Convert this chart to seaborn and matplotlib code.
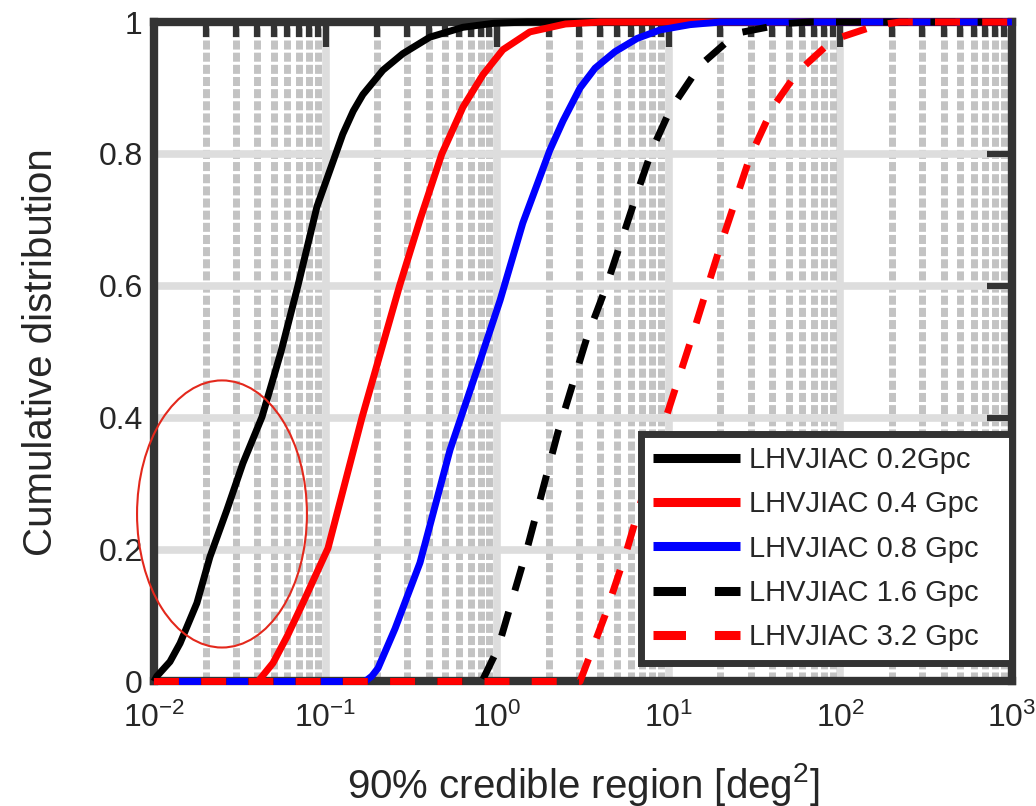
import matplotlib
matplotlib.use('Agg')
import matplotlib.pyplot as plt
from matplotlib.patches import Ellipse
import seaborn as sns
import pandas as pd

# CDF of 90% credible area for LHVJIAC network at several distances
area_02 = [0.01, 0.0104, 0.0124, 0.0142, 0.0178, 0.0212, 0.0266, 0.033, 0.0426,
           0.055, 0.069, 0.0891, 0.106, 0.126, 0.145, 0.165, 0.216, 0.282, 0.405,
           0.632, 0.95, 1.5, 1000]
cdf_02 = [0, 0.008, 0.03, 0.058, 0.119, 0.189, 0.26, 0.331, 0.401,
          0.5, 0.6, 0.72, 0.775, 0.83, 0.865, 0.89, 0.927, 0.952, 0.977,
          0.992, 0.998, 1, 1]

area_04 = [0.01, 0.0404, 0.0494, 0.0596, 0.0738, 0.1033, 0.163, 0.27, 0.355,
           0.476, 0.632, 0.826, 1.08, 1.55, 2.5, 4.0, 1000]
cdf_04 = [0, 0, 0.028, 0.068, 0.119, 0.202, 0.40, 0.6, 0.7,
          0.8, 0.871, 0.92, 0.958, 0.985, 0.997, 1, 1]

area_08 = [0.01, 0.170, 0.186, 0.202, 0.254, 0.355, 0.531, 0.762, 1.04, 1.41,
           2.03, 2.42, 3.04, 3.72, 4.86, 6.53, 8.9, 13.3, 20, 1000]
cdf_08 = [0, 0, 0.008, 0.02, 0.08, 0.18, 0.351, 0.472, 0.578, 0.695,
          0.806, 0.85, 0.90, 0.93, 0.955, 0.975, 0.988, 0.996, 1, 1]

area_16 = [0.01, 0.815, 1.01, 1.49, 2.26, 3.34, 4.31, 6.53, 7.98,
           10.2, 15.2, 24.9, 48.9, 66.5, 1000]
cdf_16 = [0, 0, 0.05, 0.2, 0.378, 0.522, 0.598, 0.74, 0.806,
          0.867, 0.934, 0.983, 0.998, 1, 1]

area_32 = [0.01, 3.04, 4.25, 5.71, 9.25, 13.3, 19.9, 29.7, 40.5,
           55.8, 90.6, 163, 222, 1000]
cdf_32 = [0, 0, 0.1, 0.2, 0.386, 0.513, 0.659, 0.795, 0.871,
          0.923, 0.973, 0.995, 1, 1]

labels = ['LHVJIAC 0.2Gpc', 'LHVJIAC 0.4 Gpc', 'LHVJIAC 0.8 Gpc',
          'LHVJIAC 1.6 Gpc', 'LHVJIAC 3.2 Gpc']
colors = ['#000000', '#ff0000', '#0000ff', '#000000', '#ff0000']
dashed = [False, False, False, True, True]

yticks = [0, 0.2, 0.4, 0.6, 0.8, 1]
ytick_labels = ['0', '0.2', '0.4', '0.6', '0.8', '1']

frames = []
for lab, xs, ys in zip(labels, [area_02, area_04, area_08, area_16, area_32],
                       [cdf_02, cdf_04, cdf_08, cdf_16, cdf_32]):
    frames.append(pd.DataFrame({'area': xs, 'cdf': ys, 'run': lab}))
df = pd.concat(frames, ignore_index=True)

sns.set_theme(style='white')
plt.rcParams['font.family'] = ['Liberation Sans', 'DejaVu Sans']
plt.rcParams['mathtext.fontset'] = 'custom'
plt.rcParams['mathtext.rm'] = 'Liberation Sans'
plt.rcParams['mathtext.it'] = 'Liberation Sans:italic'
plt.rcParams['mathtext.bf'] = 'Liberation Sans:bold'

DARK = '#333333'
TXT = '#262626'

fig = plt.figure(figsize=(10.36, 8.06), dpi=100)
ax = fig.add_axes([0.1486, 0.1545, 0.8282, 0.8182])

for lab, col, dsh in zip(labels, colors, dashed):
    ls = (0, (3.6, 3.2)) if dsh else '-'
    sns.lineplot(data=df[df['run'] == lab], x='area', y='cdf', ax=ax,
                 color=col, linestyle=ls, lw=5, label=lab, sort=False,
                 estimator=None, clip_on=False, zorder=5,
                 solid_capstyle='butt', dash_capstyle='butt',
                 solid_joinstyle='round')

ax.set_xscale('log')
ax.set_xlim(1e-2, 1e3)
ax.set_ylim(0, 1)
ax.set_yticks(yticks, ytick_labels)

ax.set_axisbelow(True)
ax.grid(which='major', color='#dddddd', lw=5.5, ls='-')
ax.grid(which='minor', axis='x', color='#c3c3c3', lw=5, ls=(0, (1.3, 0.45)))

ax.tick_params(which='both', direction='in', top=True, right=True,
               color=DARK, labelcolor=TXT, labelsize=23)
ax.tick_params(which='major', length=18, width=4.5)
ax.tick_params(which='minor', length=11, width=4.5)
ax.tick_params(axis='y', pad=8)
ax.tick_params(axis='x', pad=15)
for sp in ax.spines.values():
    sp.set_color(DARK)
    sp.set_linewidth(6)
    sp.set_visible(True)

ax.set_xlabel('90% credible region [deg$^{2}$]', fontsize=29, color=TXT)
ax.set_ylabel('Cumulative distribution', fontsize=29, color=TXT)
ax.xaxis.set_label_coords(0.5, -0.1205)
ax.yaxis.set_label_coords(-0.1096, 0.5)

leg = ax.legend(loc='lower left', bbox_to_anchor=(0.5676, 0.028, 0.4324, 0.352),
                mode='expand', borderaxespad=0, fontsize=21, frameon=True,
                fancybox=False, framealpha=1, edgecolor=DARK,
                handlelength=3.0, handletextpad=0.3, labelspacing=0.56,
                borderpad=0.4)
leg.get_frame().set_linewidth(5)
leg.set_zorder(10)
for t in leg.get_texts():
    t.set_color(TXT)
for ln in leg.get_lines():
    ln.set_linewidth(6.5)

# highlight ellipse around the low-area tail of the 0.2 Gpc curve
ax.add_patch(Ellipse((0.0793, 0.254), 0.198, 0.405, transform=ax.transAxes,
                     fill=False, edgecolor='#e3281c', lw=1.5, clip_on=False,
                     zorder=20))

fig.savefig('out.png', dpi=100)
